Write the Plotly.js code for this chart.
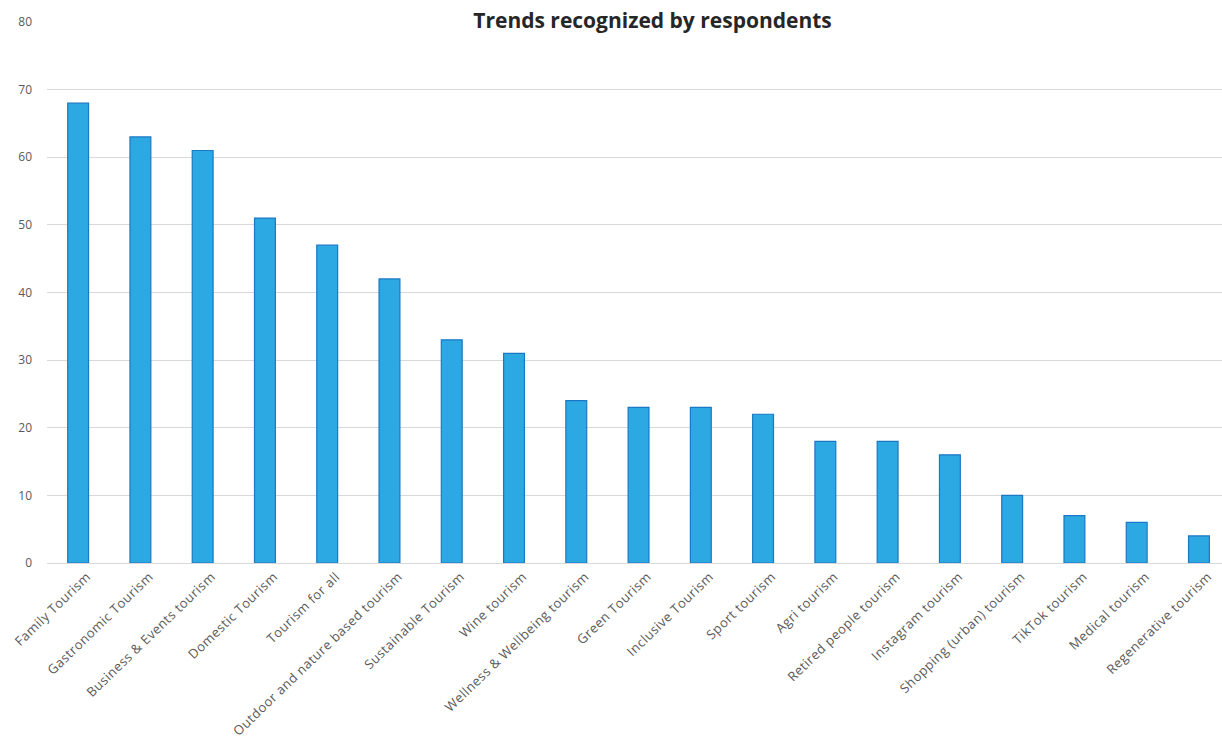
<!DOCTYPE html>
<html>
<head>
<meta charset="utf-8">
<script src="https://cdn.plot.ly/plotly-3.0.1.min.js"></script>
<style>html,body{margin:0;padding:0;background:#fff;}#chart{width:1222px;height:738px;}
.xtick text{letter-spacing:0.5px;}</style>
</head>
<body>
<div id="chart"></div>
<script>
const categories = ["Family Tourism","Gastronomic Tourism","Business & Events tourism","Domestic Tourism","Tourism for all","Outdoor and nature based tourism","Sustainable Tourism","Wine tourism","Wellness & Wellbeing tourism","Green Tourism","Inclusive Tourism","Sport tourism","Agri tourism","Retired people tourism","Instagram tourism","Shopping (urban) tourism","TikTok tourism","Medical tourism","Regenerative tourism"];
const values = [68,63,61,51,47,42,33,31,24,23,23,22,18,18,16,10,7,6,4];
const yTicks = [0,10,20,30,40,50,60,70,80];

Plotly.newPlot('chart', [{
  type: 'bar',
  x: categories,
  y: values,
  width: 0.335,
  marker: {color: '#2CA8E2', line: {color: '#1B78C4', width: 1.2}},
  hoverinfo: 'x+y'
}], {
  width: 1222, height: 738,
  margin: {l: 47, r: 0, t: 22, b: 175},
  paper_bgcolor: '#fff', plot_bgcolor: '#fff',
  title: {text: '<b>Trends recognized by respondents</b>', x: 0.534, xanchor: 'center', y: 0.972, yanchor: 'middle',
          font: {family: 'Open Sans', size: 21, color: '#262626'}},
  xaxis: {
    type: 'category', range: [-0.5, 18.37], tickangle: -44,
    tickfont: {family: 'Open Sans', size: 13, color: '#595959'},
    showgrid: false, zeroline: false, showline: true, linecolor: '#d9d9d9', linewidth: 1,
    ticks: '', ticklabelshift: 9, fixedrange: true
  },
  yaxis: {
    range: [0, 80], tickvals: yTicks, ticktext: yTicks.map(String),
    tickfont: {family: 'Open Sans', size: 12, color: '#595959'},
    gridcolor: '#d9d9d9', gridwidth: 1, zeroline: false, showline: false,
    ticks: '', ticklabelstandoff: 14, fixedrange: true
  },
  showlegend: false
}, {displayModeBar: false, staticPlot: true});
</script>
</body>
</html>
